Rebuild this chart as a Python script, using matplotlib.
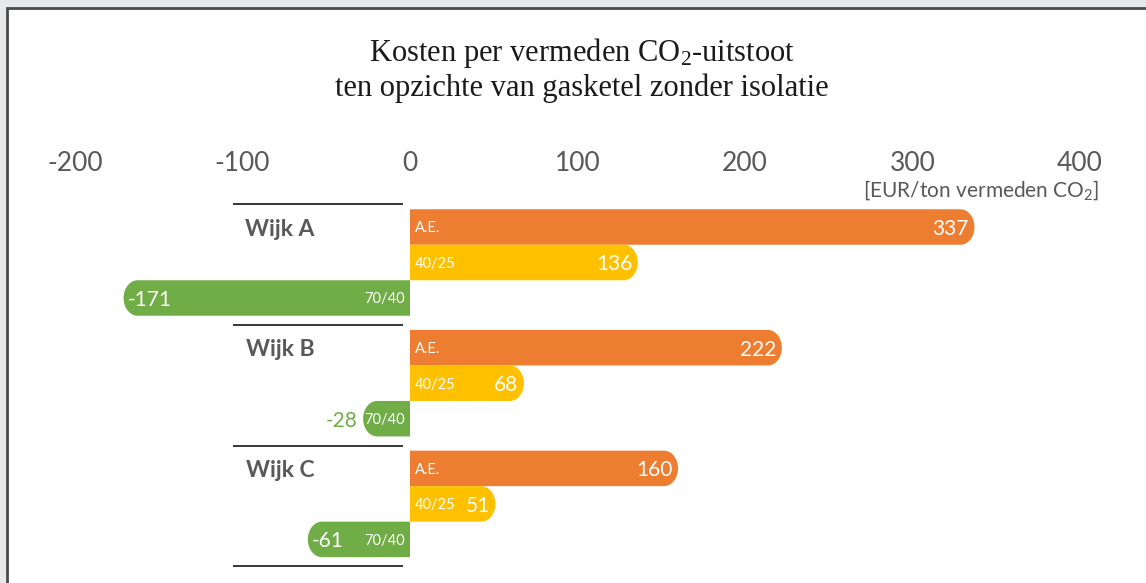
import matplotlib
matplotlib.use('Agg')
import matplotlib.pyplot as plt
from matplotlib.path import Path
import matplotlib.patches as mpatches

plt.rcParams['mathtext.default'] = 'regular'

# ------------------------------------------------------------
# data
# ------------------------------------------------------------
wijken = ['Wijk A', 'Wijk B', 'Wijk C']
varianten = ['A.E.', '40/25', '70/40']
kosten_ae = [337, 222, 160]
kosten_4025 = [136, 68, 51]
kosten_7040 = [-171, -28, -61]
xticks = [-200, -100, 0, 100, 200, 300, 400]

colors = ['#ED7D31', '#FFC000', '#70AD47']
label_gray = '#595959'

W, H = 1146, 583
fig = plt.figure(figsize=(W / 100, H / 100), dpi=100, facecolor='#e7e8e9')

# white card with a dark border (only top/left edges visible)
card = mpatches.Rectangle((7 / W, -0.2), 1.3, 1.2 - 8 / H,
                          transform=fig.transFigure, facecolor='white',
                          edgecolor='#4a4a4a', linewidth=2, zorder=-1)
fig.patches.append(card)

# axes placed so that -200..400 spans 75..1080 px
px_top, px_bot = 200, 575
ax = fig.add_axes([75 / W, 1 - px_bot / H, 1005 / W, (px_bot - px_top) / H])
ax.set_facecolor('none')
bar_h = 1.0
px_per_y = 35.5
y0 = (px_top - 227) / px_per_y
y1 = (px_bot - 227) / px_per_y
ax.set_xlim(-200, 400)
ax.set_ylim(y1, y0)
px_per_x = 1005 / 600

for s in ax.spines.values():
    s.set_visible(False)
ax.xaxis.tick_top()
ax.set_xticks(xticks)
ax.set_xticklabels([str(t) for t in xticks], fontsize=19, color=label_gray,
                   family='Lato')
ax.tick_params(axis='x', length=0, pad=17)
ax.set_yticks([])


def rounded_bar(ax, v, c, h, color):
    """Bar from 0 to v with an elliptical cap on the outer end."""
    rx = min(14 / px_per_x, abs(v))
    ry = h / 2
    k = 0.5523
    s = 1 if v >= 0 else -1
    e = v - s * rx
    top, bot = c - ry, c + ry
    verts = [(0, top), (e, top),
             (e + s * rx * k, top), (v, c - ry * k), (v, c),
             (v, c + ry * k), (e + s * rx * k, bot), (e, bot),
             (0, bot), (0, top)]
    codes = [Path.MOVETO, Path.LINETO,
             Path.CURVE4, Path.CURVE4, Path.CURVE4,
             Path.CURVE4, Path.CURVE4, Path.CURVE4,
             Path.LINETO, Path.CLOSEPOLY]
    ax.add_patch(mpatches.PathPatch(Path(verts, codes), facecolor=color,
                                    edgecolor='none', zorder=2))


pitch = 3.4
dx = 7 / px_per_x
va = 'center_baseline'
series = [kosten_ae, kosten_4025, kosten_7040]
for g, wijk in enumerate(wijken):
    base = g * pitch
    ax.plot([-105.7, -4.2], [base - 0.64] * 2, color='#262626', lw=1.3,
            solid_capstyle='butt', clip_on=False)
    ax.text(-77.6, base, wijk, ha='center', va=va, fontsize=16.5,
            fontweight='bold', color=label_gray, family='Lato')
    for j, vals in enumerate(series):
        v = vals[g]
        c = base + j
        rounded_bar(ax, v, c, bar_h, colors[j])
        if v >= 0:
            ax.text(3, c, varianten[j], ha='left', va=va, fontsize=10.5,
                    color='white', family='Lato', zorder=3)
            ax.text(v - dx * 0.8, c, str(v), ha='right', va=va,
                    fontsize=15, color='white', family='Lato', zorder=3)
        else:
            ax.text(-3, c, varianten[j], ha='right', va=va,
                    fontsize=10.5, color='white', family='Lato', zorder=3)
            if abs(v) < 40:
                ax.text(v - dx * 0.8, c, str(v), ha='right', va=va,
                        fontsize=15, color=colors[j], family='Lato')
            else:
                ax.text(v + dx * 0.6, c, str(v), ha='left', va=va,
                        fontsize=15, color='white', family='Lato', zorder=3)

ax.plot([-105.7, -4.2], [len(wijken) * pitch - 0.64] * 2,
        color='#262626', lw=1.3, solid_capstyle='butt', clip_on=False)

# title and unit label
fig.text(582 / W, 1 - 61 / H, 'Kosten per vermeden CO$_2$-uitstoot',
         ha='center', va='baseline', fontsize=22, color='#1a1a1a',
         family='Liberation Serif')
fig.text(582 / W, 1 - 96 / H, 'ten opzichte van gasketel zonder isolatie',
         ha='center', va='baseline', fontsize=22, color='#1a1a1a',
         family='Liberation Serif')
fig.text(1099 / W, 1 - 197 / H, '[EUR/ton vermeden CO$_2$]', ha='right',
         va='baseline', fontsize=15, color=label_gray, family='Lato')

fig.savefig('out.png', dpi=100, facecolor=fig.get_facecolor())
